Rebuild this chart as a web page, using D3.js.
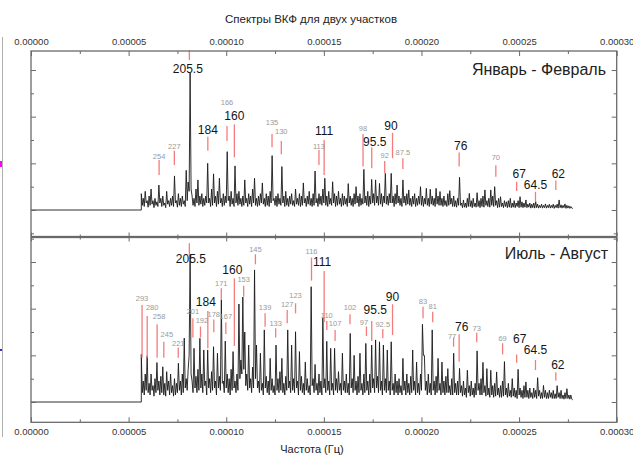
<!DOCTYPE html>
<html>
<head>
<meta charset="utf-8">
<script src="https://cdn.jsdelivr.net/npm/d3@7"></script>
<style>
  body { margin: 0; background: #fff; }
  svg { display: block; font-family: "Liberation Sans", Arial, sans-serif; }
</style>
</head>
<body>
<svg id="chart" width="633" height="455"></svg>
<script>
// Frequency grid of both cross-correlation spectra (Hz)
const freqStart = 0.0000565;
const freqStep = 0.0000005;

// Spectral amplitude, January - February
const janFebValues = [
  7, 2, 5, 1.5, 8, 3, 4, 1.2, 6, 2,
  9, 2.5, 4, 1, 5, 2, 3.5, 1.5, 10.7, 3,
  5, 1.5, 6, 2, 3, 1, 8, 2.5, 4, 1.5,
  5, 2, 6, 1.5, 14.6, 3, 4, 1.2, 7, 2,
  5, 1.5, 6, 2.5, 4, 1.5, 17, 4, 12, 8,
  58.7, 9, 6, 2, 5, 1.5, 9, 3, 12.9, 2,
  6, 2.5, 7, 1.5, 5, 2, 6, 3, 20, 3,
  5, 1.5, 9, 2, 15.5, 3, 6, 1.5, 8, 2.5,
  13.6, 3, 5, 1.5, 7, 2, 6, 3, 25, 4,
  6, 1.5, 8, 2.5, 5, 1.5, 18.9, 3, 7, 2,
  8, 2.5, 5, 1.5, 6, 2, 12.9, 3, 5, 1.5,
  7, 2.5, 6, 1.5, 9, 3, 13.6, 2, 5, 1.5,
  6, 2, 7, 3, 11.6, 2.5, 5, 1.5, 7, 2,
  6, 1.5, 8, 3, 23.3, 4, 5, 2, 6, 1.5,
  7, 2.5, 5, 2, 18.6, 3, 6, 1.5, 8, 2,
  5, 1.5, 6, 2.5, 7, 2, 4, 1.5, 9, 2.5,
  5, 2, 7, 1.5, 6, 2, 11.6, 3, 5, 1.5,
  6, 2.5, 8, 2, 5, 1.5, 7, 2, 16.7, 3,
  5, 1.5, 7, 2.5, 6, 2, 9, 3, 13.6, 2,
  6, 1.5, 8, 2.5, 5, 2, 12.1, 3, 7, 1.5,
  6, 2, 8, 2.5, 5, 1.5, 7, 2, 6, 2.5,
  5, 1.5, 11.3, 3, 6, 2, 5, 1.5, 7, 2.5,
  10, 3, 6, 1.5, 7, 2, 5, 2.5, 17.4, 3,
  6, 2, 8, 1.5, 6, 2.5, 13.1, 3, 7, 2,
  12.9, 3, 6, 2, 11.4, 2.5, 7, 1.5, 6, 3,
  15.7, 2.5, 6, 2, 7, 3, 15.7, 3, 6, 1.5,
  7, 2.5, 10.7, 3, 6, 2, 5, 1.5, 12.9, 3,
  6, 2, 7, 2.5, 8.6, 2, 5, 1.5, 6, 2.5,
  7, 1.5, 5, 2, 6, 2.5, 10, 2, 6, 1.5,
  5, 2.5, 9.3, 2, 5, 1.5, 8.9, 2.5, 6, 2,
  5, 1.5, 9.3, 2.5, 6, 2, 7.9, 2, 5, 1.5,
  6, 2, 4, 1.5, 7, 2, 8.3, 2.5, 5, 1.5,
  6, 1.5, 4, 1.2, 5, 2, 14, 2, 3, 1,
  4.3, 1.2, 3, 1, 5, 1.5, 7.1, 1.5, 4, 1,
  5, 1.5, 3, 1.2, 7.4, 1.5, 4, 1, 5, 1.5,
  6, 1.2, 8.6, 2, 4, 1.5, 5, 1.2, 8.6, 2,
  6, 1.5, 10, 2, 4, 1, 5, 1.2, 5.7, 1.5,
  3, 1, 4, 1.5, 3.5, 1, 4, 1.2, 5, 1,
  3, 1.2, 4, 1, 3, 1.5, 4, 1, 5.7, 1.2,
  3.5, 1, 3, 1.2, 4.3, 1, 2.5, 1.2, 3, 0.8,
  2.5, 1, 3, 0.8, 3.6, 1, 2.5, 0.8, 2, 1,
  2.5, 0.8, 2, 1, 2.6, 0.8, 2, 1, 2.5, 0.8,
  2, 1, 2.5, 0.7, 2, 1, 2.5, 0.8, 4.3, 1,
  2.2, 0.8, 2, 1, 2.6, 0.7, 2, 0.8, 1.8, 0.7,
  1.5, 0.8, 0.7
];

// Spectral amplitude, July - August
const julAugValues = [
  20.4, 4, 9, 3, 12, 5, 19.8, 4, 8, 3,
  12, 5, 7, 2.5, 10, 4, 16.9, 5, 9, 3,
  11, 4, 15.1, 3, 8, 2.5, 13, 5, 9, 3,
  12, 4, 7, 2.5, 10, 3, 8, 4, 16.6, 5,
  9, 3, 12, 4, 27.4, 6, 10, 5, 14, 20,
  63.3, 12, 9, 4, 23, 6, 11, 4, 14, 5,
  27.3, 6, 12, 4, 22.3, 7, 9, 3, 22.3, 6,
  10, 4, 13, 5, 23.7, 6, 9, 3, 20.9, 6,
  11, 5, 43.7, 8, 9, 4, 26.1, 6, 12, 4,
  10, 3, 14, 5, 21.6, 6, 9, 4, 12, 5,
  42, 10, 18, 12, 45, 14, 30, 7, 12, 5,
  24.4, 6, 10, 4, 15, 6, 56.6, 10, 24.4, 6,
  9, 4, 20.9, 5, 8, 3, 30.9, 6, 11, 4,
  9, 3, 18.7, 5, 10, 4, 7, 3, 24.4, 5,
  10, 4, 13, 5, 18.7, 4, 8, 3, 11, 5,
  30.9, 6, 9, 4, 24.4, 5, 10, 4, 30.1, 6,
  9, 3, 21.6, 5, 11, 4, 8, 3, 17.1, 5,
  10, 4, 7, 3, 49.4, 7, 10, 4, 16.1, 5,
  8, 3, 12, 4, 9, 3, 36.1, 6, 10, 4,
  26, 5, 9, 3, 23, 5, 8, 3, 23, 5,
  10, 4, 13, 5, 8, 3, 20.9, 5, 9, 4,
  12, 4, 8, 3, 29.4, 6, 10, 4, 20, 5,
  9, 3, 11, 4, 20.9, 5, 8, 3, 12, 4,
  25.1, 5, 9, 3, 12, 4, 24.4, 6, 10, 4,
  26.6, 6, 11, 4, 25.8, 5, 9, 3, 24.4, 5,
  10, 4, 22.3, 5, 9, 3, 25.8, 5, 8, 3,
  12, 4, 9, 3, 10, 4, 7, 3, 18.7, 5,
  9, 3, 12, 4, 8, 3, 11, 4, 22.3, 5,
  9, 3, 17.1, 4, 8, 3, 12, 5, 33.3, 20,
  20, 5, 9, 3, 12, 4, 8, 3, 30.9, 5,
  9, 3, 11, 4, 18.7, 5, 8, 3, 17.1, 4,
  9, 3, 11, 4, 14.3, 4, 7, 3, 10, 3,
  20.9, 4, 8, 3, 9, 3, 14.4, 4, 7, 2.5,
  9, 3, 6, 2, 13.6, 4, 7, 2.5, 9, 3,
  6, 2, 8, 3, 21.9, 5, 8, 3, 10, 3,
  17, 4, 7, 2.5, 14.3, 3, 6, 2, 13.6, 3,
  7, 2, 8, 2.5, 12.9, 3, 6, 2, 7, 2,
  9, 2.5, 17.3, 3, 6, 2, 8, 2.5, 5, 2,
  10, 2.5, 6, 2, 5, 1.5, 14, 3, 6, 2,
  5, 1.5, 7, 2, 8.6, 2, 5, 1.5, 6, 2,
  4, 1.5, 6, 2, 5, 1.5, 10.4, 2.5, 5, 1.5,
  4, 1.5, 7.1, 2, 5, 1.5, 4, 1.5, 5, 2,
  4, 1.5, 5, 1.5, 3.5, 1.5, 7, 2, 4, 1.5,
  5, 1.5, 3, 1.2, 4, 1.5, 5.7, 1.5, 3, 1.2,
  3, 1.2, 0.9
];

// Marked periods (minutes) with marker extent and label level (amplitude units)
const janFebPeriods    = [254, 227, 205.5, 184, 166, 160, 135, 130, 113, 111, 98, 95.5, 92, 90, 87.5, 76, 70, 67, 64.5, 62];
const janFebMarkLow    = [15.0, 19.3, 64.3, 25.4, 29.6, 22.6, 26.9, 23.9, 19.3, 15.0, 18.6, 17.9, 15.7, 22.2, 17.6, 18.6, 14.3, 8.1, 3.6, 8.6];
const janFebMarkHigh   = [21.4, 25.4, 68.5, 31.4, 36.0, 36.7, 32.6, 29.6, 25.7, 30.0, 32.6, 26.9, 21.0, 33.1, 22.2, 24.6, 19.2, 12.1, 7.8, 12.6];
const janFebLabelLevel = [23.1, 27.4, 60.7, 34.6, 46.2, 40.4, 37.4, 33.9, 27.1, 33.9, 35.0, 29.3, 23.3, 36.1, 24.7, 27.4, 22.4, 15.7, 10.7, 15.7];

const julAugPeriods    = [293, 280, 258, 245, 221, 205.5, 201, 192, 184, 178, 171, 167, 160, 153, 145, 139, 133, 127, 123, 116, 111, 110, 107, 102, 97, 95.5, 92.5, 90, 83, 81, 77, 76, 73, 69, 67, 64.5, 62];
const julAugMarkLow    = [19, 19, 19, 19, 19, 63, 27.6, 27.6, 23, 29.9, 43.7, 29.1, 24, 45.1, 59, 32.3, 27.6, 33.7, 38, 52, 34.2, 30.9, 26.1, 33.3, 28.3, 26.1, 27.3, 28.7, 35.9, 34.2, 23.7, 17.3, 25.6, 20.4, 16.8, 13.7, 9.1];
const julAugMarkHigh   = [41.6, 36.9, 33.3, 25.8, 23.4, 68, 35.9, 32.3, 39, 35.4, 48.7, 34.2, 53, 49.8, 63.3, 38, 31.6, 39.4, 42.3, 61.9, 56.1, 34.7, 30.9, 37.6, 32.4, 34.7, 31.3, 41.9, 40.8, 38.7, 27.6, 29, 29.7, 25.2, 20.4, 18, 12.7];
const julAugLabelLevel = [44.4, 40.6, 36.9, 29.1, 25.2, 61.6, 39, 35.1, 43, 37.7, 50.9, 36.9, 56.9, 52.7, 65.6, 40.8, 33.7, 41.9, 45.6, 64.4, 60.1, 37, 33.7, 40.8, 34.1, 39.4, 33.4, 45.1, 43.3, 41.1, 28.2, 32.3, 31.8, 27.3, 27, 22.3, 16.2];

// Periods shown with the large dark labels
const primaryPeriods = [205.5, 184, 160, 111, 95.5, 90, 76, 67, 64.5, 62];

// Axis ticks
const freqMajorTicks = [0, 0.00005, 0.0001, 0.00015, 0.0002, 0.00025, 0.0003];
const freqMinorTicks = [0.000025, 0.000075, 0.000125, 0.000175, 0.000225, 0.000275];

const chartTitle = "Спектры ВКФ для двух участков";
const xAxisTitle = "Частота (Гц)";

// ---------------------------------------------------------------------------
const svg = d3.select("#chart");
const x = d3.scaleLinear().domain([0, 0.0003]).range([31, 616.7]);
const frameColor = "#6a6a6a";

const panels = [
  { title: "Январь - Февраль", values: janFebValues, periods: janFebPeriods,
    low: janFebMarkLow, high: janFebMarkHigh, level: janFebLabelLevel,
    top: 51, bottom: 236.5, zero: 210, titleX: 606, titleY: 75,
    ticksMajor: [0, 20, 40, 60], ticksMinor: [-10, 10, 30, 50],
    nudge: { 95.5: 3, 205.5: -1.5, 90: -1.5, 67: 2.5, 62: 2.5, 76: 1.5 } },
  { title: "Июль - Август", values: julAugValues, periods: julAugPeriods,
    low: julAugMarkLow, high: julAugMarkHigh, level: julAugLabelLevel,
    top: 237.5, bottom: 422.3, zero: 402, titleX: 608, titleY: 259,
    ticksMajor: [0, 20, 40, 60], ticksMinor: [10, 30, 50, 70],
    nudge: { 280: 5, 258: 2, 245: 3, 205.5: 1.5, 192: 1.5, 184: -2, 160: -2, 111: -2,
             97: -2.5, 95.5: 3.5, 77: -1.5, 76: 2.5, 67: 3, 62: 2 } }
];

function styleAxis(g) {
  g.select(".domain").remove();
  g.selectAll(".tick line").attr("stroke", frameColor).attr("stroke-width", 1);
  g.selectAll(".tick text").attr("fill", "#333").attr("font-size", 9.5)
    .attr("font-family", "'Liberation Sans', Arial, sans-serif");
}

panels.forEach((p, pi) => {
  const y = d3.scaleLinear().domain([0, 60]).range([p.zero, p.zero - 140]);
  const g = svg.append("g");

  // spectrum: flat part below the first frequency, then the computed spectrum
  const pts = [{ f: 0, v: 0 }, { f: freqStart, v: 0 }]
    .concat(p.values.map((v, i) => ({ f: freqStart + i * freqStep, v })));
  const line = d3.line().x(d => x(d.f)).y(d => y(d.v));
  g.append("path").datum(pts).attr("d", line)
    .attr("fill", "none").attr("stroke", "#1a1a1a").attr("stroke-width", 0.9)
    .attr("stroke-linejoin", "miter");

  // period markers and labels
  const marks = p.periods.map((per, i) => ({
    per, f: 1 / (per * 60), lo: p.low[i], hi: p.high[i], lv: p.level[i],
    primary: primaryPeriods.includes(per)
  }));
  g.selectAll("line.mark").data(marks).join("line")
    .attr("class", "mark")
    .attr("x1", d => x(d.f)).attr("x2", d => x(d.f))
    .attr("y1", d => y(d.lo)).attr("y2", d => y(d.hi))
    .attr("stroke", "#f47c7c").attr("stroke-width", 1.3);
  g.selectAll("text.plabel").data(marks).join("text")
    .attr("class", "plabel")
    .attr("x", d => x(d.f) + (p.nudge[d.per] || 0))
    .attr("y", d => y(d.lv))
    .attr("dy", "0.36em")
    .attr("text-anchor", "middle")
    .attr("font-size", d => d.primary ? 12 : 7.5)
    .attr("fill", d => d.primary ? "#141414" : "#9a9a9a")
    .text(d => d.per);

  // panel title
  g.append("text").attr("x", p.titleX).attr("y", p.titleY)
    .attr("text-anchor", "end").attr("font-size", 16).attr("fill", "#222")
    .text(p.title);

  // frame
  g.append("rect").attr("x", 31).attr("y", p.top)
    .attr("width", 616.7 - 31).attr("height", p.bottom - p.top)
    .attr("fill", "none").attr("stroke", frameColor).attr("stroke-width", 1.3);

  // vertical ticks, inward on both sides
  [[31, d3.axisLeft], [616.7, d3.axisRight]].forEach(([xp, ax]) => {
    g.append("g").attr("transform", `translate(${xp},0)`)
      .call(ax(y).tickValues(p.ticksMajor).tickSize(-5).tickFormat(""))
      .call(styleAxis);
    g.append("g").attr("transform", `translate(${xp},0)`)
      .call(ax(y).tickValues(p.ticksMinor).tickSize(-3).tickFormat(""))
      .call(styleAxis);
  });

  // frequency ticks on the panel's top and bottom edges
  const topLabels = pi === 0, bottomLabels = pi === 1;
  g.append("g").attr("transform", `translate(0,${p.top})`)
    .call(d3.axisTop(x).tickValues(freqMajorTicks).tickSize(topLabels ? -5 : -4)
      .tickPadding(6.5).tickFormat(topLabels ? d3.format(".5f") : ""))
    .call(styleAxis);
  g.append("g").attr("transform", `translate(0,${p.top})`)
    .call(d3.axisTop(x).tickValues(freqMinorTicks).tickSize(topLabels ? -3 : -2).tickFormat(""))
    .call(styleAxis);
  g.append("g").attr("transform", `translate(0,${p.bottom})`)
    .call(d3.axisBottom(x).tickValues(freqMajorTicks).tickSize(bottomLabels ? -5 : -4)
      .tickPadding(6).tickFormat(bottomLabels ? d3.format(".5f") : ""))
    .call(styleAxis);
  g.append("g").attr("transform", `translate(0,${p.bottom})`)
    .call(d3.axisBottom(x).tickValues(freqMinorTicks).tickSize(bottomLabels ? -3 : -2).tickFormat(""))
    .call(styleAxis);
});

// titles
svg.append("text").attr("x", 311).attr("y", 23).attr("text-anchor", "middle")
  .attr("font-size", 11.5).attr("fill", "#222").text(chartTitle);
svg.append("text").attr("x", 312).attr("y", 453).attr("text-anchor", "middle")
  .attr("font-size", 11).attr("fill", "#222").text(xAxisTitle);

// edge of the neighbouring panel on the left
svg.append("line").attr("x1", 2.5).attr("x2", 2.5).attr("y1", 37).attr("y2", 437)
  .attr("stroke", "#b0b0b0").attr("stroke-width", 1);
svg.append("rect").attr("x", 0).attr("y", 161).attr("width", 2).attr("height", 6).attr("fill", "#ff00ff");
svg.append("rect").attr("x", 0).attr("y", 349).attr("width", 2).attr("height", 2).attr("fill", "#3030c0");
</script>
</body>
</html>
